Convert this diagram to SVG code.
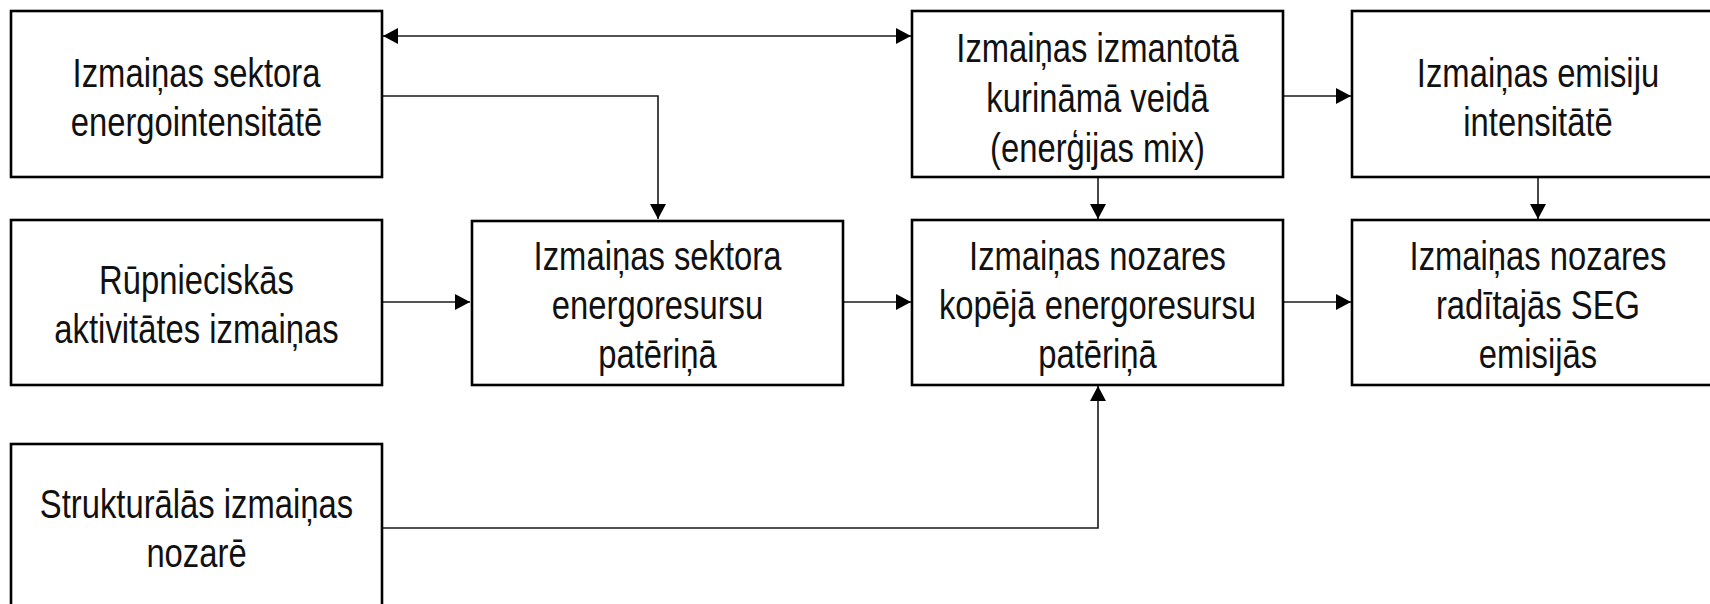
<svg xmlns="http://www.w3.org/2000/svg" width="1710" height="604" viewBox="0 0 1710 604">
<style>
.box{fill:#fff;stroke:#000;stroke-width:2.6}
.lbl{font-family:"Liberation Sans",Arial,sans-serif;font-size:40px;fill:#111;text-anchor:middle}
.con{fill:none;stroke:#1a1a1a;stroke-width:1.6}
</style>
<defs>
<marker id="ah" markerUnits="userSpaceOnUse" viewBox="0 0 15 16" markerWidth="15" markerHeight="16" refX="15" refY="8" orient="auto-start-reverse">
<path d="M0,0 L15,8 L0,16 z" fill="#000"/>
</marker>
</defs>
<rect width="1710" height="604" fill="#fff"/>
<g id="connectors">
<line class="con" x1="383" y1="36" x2="911" y2="36" marker-start="url(#ah)" marker-end="url(#ah)"/>
<polyline class="con" points="382,96 658,96 658,219" marker-end="url(#ah)"/>
<line class="con" x1="382" y1="302" x2="470" y2="302" marker-end="url(#ah)"/>
<line class="con" x1="843" y1="302" x2="911" y2="302" marker-end="url(#ah)"/>
<line class="con" x1="1098" y1="177" x2="1098" y2="219" marker-end="url(#ah)"/>
<line class="con" x1="1283" y1="96" x2="1351" y2="96" marker-end="url(#ah)"/>
<line class="con" x1="1538" y1="177" x2="1538" y2="219" marker-end="url(#ah)"/>
<line class="con" x1="1283" y1="302" x2="1351" y2="302" marker-end="url(#ah)"/>
<polyline class="con" points="382,528 1098,528 1098,386" marker-end="url(#ah)"/>
</g>
<g id="nodeA">
<rect class="box" x="11" y="11" width="371" height="166"/>
<text class="lbl" transform="translate(196.5 0) scale(0.82 1)"><tspan x="0" y="87">Izmaiņas sektora</tspan><tspan x="0" y="136">energointensitātē</tspan></text>
</g>
<g id="nodeB">
<rect class="box" x="11" y="220" width="371" height="165"/>
<text class="lbl" transform="translate(196.5 0) scale(0.82 1)"><tspan x="0" y="294">Rūpnieciskās</tspan><tspan x="0" y="343">aktivitātes izmaiņas</tspan></text>
</g>
<g id="nodeC">
<rect class="box" x="11" y="444" width="371" height="166"/>
<text class="lbl" transform="translate(196.5 0) scale(0.82 1)"><tspan x="0" y="518">Strukturālās izmaiņas</tspan><tspan x="0" y="567">nozarē</tspan></text>
</g>
<g id="nodeD">
<rect class="box" x="472" y="221" width="371" height="164"/>
<text class="lbl" transform="translate(657.5 0) scale(0.82 1)"><tspan x="0" y="270">Izmaiņas sektora</tspan><tspan x="0" y="319">energoresursu</tspan><tspan x="0" y="368">patēriņā</tspan></text>
</g>
<g id="nodeE">
<rect class="box" x="912" y="11" width="371" height="166"/>
<text class="lbl" transform="translate(1097.5 0) scale(0.82 1)"><tspan x="0" y="62">Izmaiņas izmantotā</tspan><tspan x="0" y="112">kurināmā veidā</tspan><tspan x="0" y="162">(enerģijas mix)</tspan></text>
</g>
<g id="nodeF">
<rect class="box" x="912" y="220" width="371" height="165"/>
<text class="lbl" transform="translate(1097.5 0) scale(0.82 1)"><tspan x="0" y="270">Izmaiņas nozares</tspan><tspan x="0" y="319">kopējā energoresursu</tspan><tspan x="0" y="368">patēriņā</tspan></text>
</g>
<g id="nodeG">
<rect class="box" x="1352" y="11" width="372" height="166"/>
<text class="lbl" transform="translate(1538 0) scale(0.82 1)"><tspan x="0" y="87">Izmaiņas emisiju</tspan><tspan x="0" y="136">intensitātē</tspan></text>
</g>
<g id="nodeH">
<rect class="box" x="1352" y="220" width="372" height="165"/>
<text class="lbl" transform="translate(1538 0) scale(0.82 1)"><tspan x="0" y="270">Izmaiņas nozares</tspan><tspan x="0" y="319">radītajās SEG</tspan><tspan x="0" y="368">emisijās</tspan></text>
</g>
</svg>
